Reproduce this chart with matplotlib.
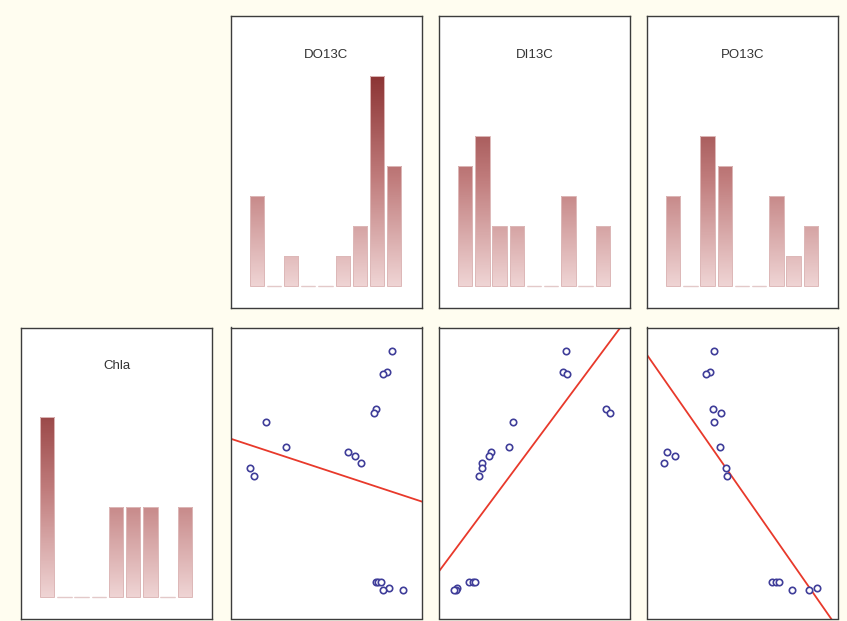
import numpy as np
import matplotlib.pyplot as plt
from matplotlib.colors import LinearSegmentedColormap

# Surface samples: chlorophyll a and carbon isotope signatures
chla = [12.00, 11.00, 10.92, 9.24, 9.01, 8.61, 7.41, 7.13, 6.95, 6.64, 6.36, 6.01,
        0.87, 0.87, 0.87, 0.58, 0.52, 0.50]
do13c = [-25.27, -25.42, -25.51, -25.70, -25.75, -28.58, -28.06, -26.44, -26.25,
         -26.08, -29.00, -28.88, -25.70, -25.64, -25.58, -25.35, -25.00, -25.51]
di13c = [-6.27, -6.43, -6.24, -4.22, -4.00, -8.96, -9.21, -10.10, -10.19,
         -10.58, -10.55, -10.70, -11.23, -11.01, -10.92, -11.83, -11.91, -12.00]
po13c = [-28.05, -28.21, -28.34, -28.10, -27.75, -28.04, -27.80, -29.88, -29.59,
         -30.00, -27.59, -27.53, -25.76, -25.63, -25.50, -24.00, -24.99, -24.30]

names = ['DO13C', 'DI13C', 'PO13C']
xvars = [do13c, di13c, po13c]
xlims = [(-29.5, -24.51), (-12.77, -2.99), (-30.67, -23.18)]
ylim_chla = (-0.87, 13.14)
n_bins = 9

bg = '#FFFDF0'
bar_cmap = LinearSegmentedColormap.from_list('bars', ['#EFD4D4', '#C07C7C', '#8A3131'])

fig = plt.figure(figsize=(8.47, 6.21), dpi=100, facecolor=bg)
W, H = 847.0, 621.0
col_left = [21, 230.5, 439, 647]
pw, ph = 191, 291
top_y, bot_y = 16.5, 327.5


def panel(left, top):
    ax = fig.add_axes([left / W, 1 - (top + ph) / H, pw / W, ph / H])
    ax.set_facecolor('white')
    ax.set_xticks([])
    ax.set_yticks([])
    for s in ax.spines.values():
        s.set_color('#3c3c3c')
        s.set_linewidth(1.0)
    return ax


def hist_panel(ax, values, title):
    counts, _ = np.histogram(values, bins=n_bins)
    pos = np.arange(n_bins)
    width = 0.83
    for p, c in zip(pos, counts):
        if c > 0:
            grad = np.linspace(0, c, 100).reshape(-1, 1)
            ax.imshow(grad, extent=(p - width / 2, p + width / 2, 0, c), origin='lower',
                      cmap=bar_cmap, vmin=0, vmax=7.2, aspect='auto', zorder=2)
    ax.bar(pos, counts, width=width, fill=False, edgecolor='#DDB8B8',
           linewidth=0.7, zorder=3)
    zero = counts == 0
    ax.hlines(np.zeros(zero.sum()), pos[zero] - width / 2, pos[zero] + width / 2,
              color='#E3C9C9', linewidth=1.0, zorder=3)
    ax.set_xlim(-1.52, 9.58)
    ax.set_ylim(-0.73, 9.0)
    ax.text(0.5, 0.866, title, transform=ax.transAxes, ha='center', va='center',
            fontsize=9.5, color='#333333', family='Liberation Sans')


# top row: distributions of the isotope variables
for i, (name, vals) in enumerate(zip(names, xvars)):
    ax = panel(col_left[i + 1], top_y)
    hist_panel(ax, vals, name)

# bottom row: Chla distribution, then Chla against each isotope
ax = panel(col_left[0], bot_y)
hist_panel(ax, chla, 'Chla')

for i, (vals, xl) in enumerate(zip(xvars, xlims)):
    ax = panel(col_left[i + 1], bot_y)
    ax.plot(vals, chla, 'o', ms=4.6, mfc='white', mec='#3F3D99', mew=1.2, zorder=3)
    slope, icpt = np.polyfit(vals, chla, 1)
    xs = np.array(xl)
    ax.plot(xs, slope * xs + icpt, color='#E8392B', lw=1.3, zorder=2)
    ax.set_xlim(xl)
    ax.set_ylim(ylim_chla)

fig.savefig('out.png', dpi=100, facecolor=bg)
